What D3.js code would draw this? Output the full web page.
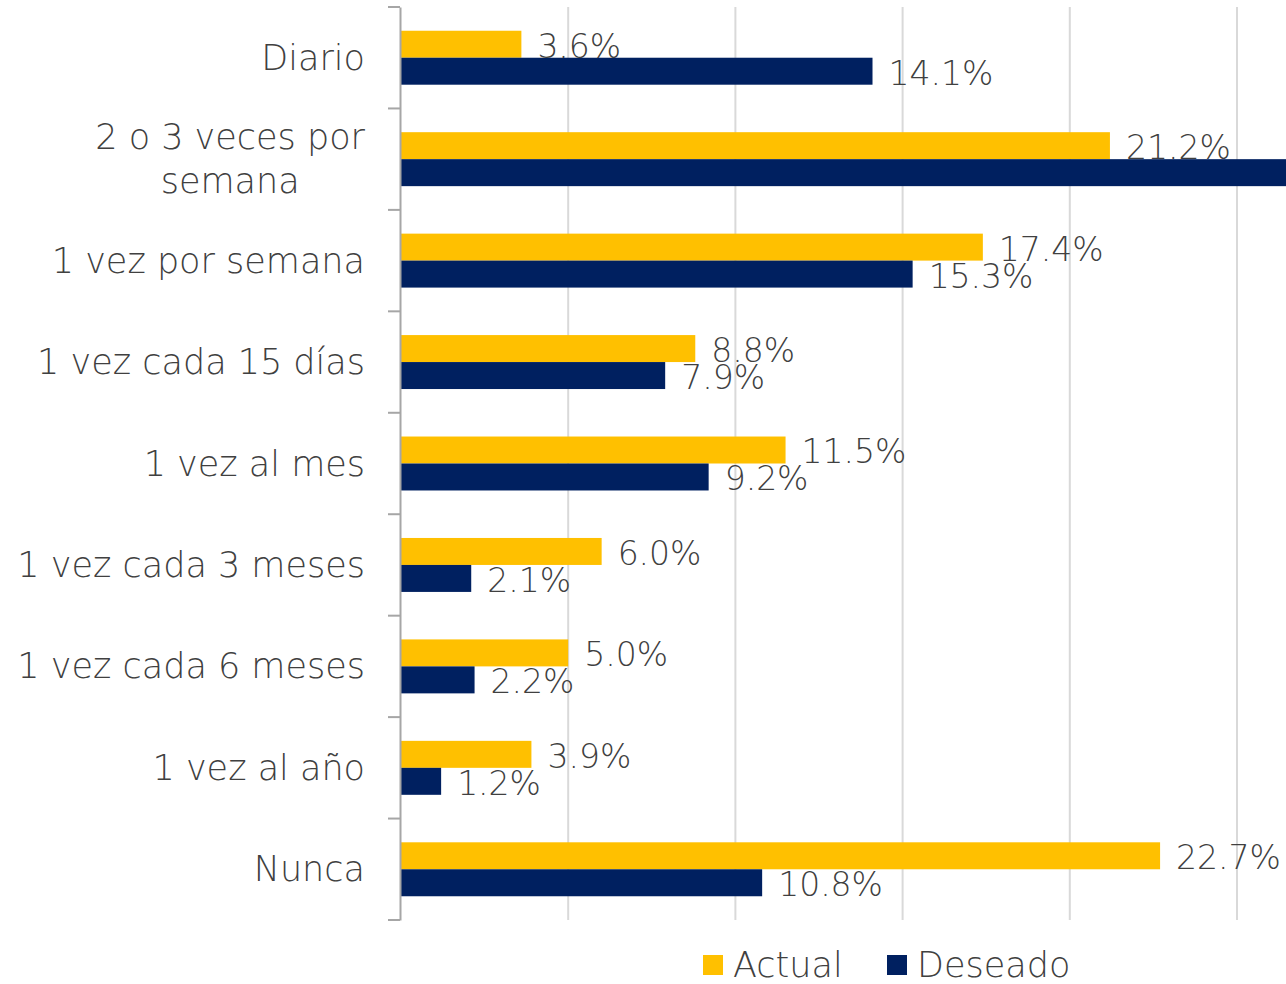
<!DOCTYPE html>
<html>
<head>
<meta charset="utf-8">
<script src="https://cdn.jsdelivr.net/npm/d3@7"></script>
<style>
  body { margin: 0; background: #fff; }
  svg { display: block; }
  text { font-family: "Century Gothic", "URW Gothic", "DejaVu Sans", sans-serif; fill: #404040; font-weight: 300; }
</style>
</head>
<body>
<div class="chart"></div>
<script>
var svgWidth = 1286;
var svgHeight = 984;
var fontSize = "35px";
var valueFontSize = "33px";

// data
var categories = ["Diario", "2 o 3 veces por semana", "1 vez por semana", "1 vez cada 15 días",
  "1 vez al mes", "1 vez cada 3 meses", "1 vez cada 6 meses", "1 vez al año", "Nunca"];
var actual = [3.6, 21.2, 17.4, 8.8, 11.5, 6.0, 5.0, 3.9, 22.7];
var deseado = [14.1, 37.2, 15.3, 7.9, 9.2, 2.1, 2.2, 1.2, 10.8];
var seriesNames = ["Actual", "Deseado"];
var colors = ["#FFC000", "#002060"];
var xTicks = [5, 10, 15, 20, 25];

var svg = d3.select(".chart")
  .append("svg")
  .attr("width", svgWidth)
  .attr("height", svgHeight);

// scales
var xScale = d3.scaleLinear()
  .domain([0, 25])
  .range([401, 1237]);

var yScale = d3.scaleBand()
  .domain(categories)
  .range([7, 920]);

var inner = d3.scaleBand()
  .domain(seriesNames)
  .range([0, yScale.bandwidth()])
  .paddingOuter(0.88);

// gridlines
svg.append("g")
  .selectAll("line")
  .data(xTicks)
  .enter()
  .append("line")
  .attr("x1", d => xScale(d))
  .attr("x2", d => xScale(d))
  .attr("y1", 7)
  .attr("y2", 920)
  .attr("stroke", "#d9d9d9")
  .attr("stroke-width", 2);

// bars
var groups = svg.append("g")
  .selectAll("g")
  .data(categories)
  .enter()
  .append("g")
  .attr("transform", d => `translate(0, ${yScale(d)})`);

var rows = categories.map((c, i) => [
  { s: "Actual", v: actual[i], c: colors[0] },
  { s: "Deseado", v: deseado[i], c: colors[1] }
]);

groups.selectAll("rect")
  .data((d, i) => rows[i])
  .enter()
  .append("rect")
  .attr("x", xScale(0))
  .attr("y", d => inner(d.s))
  .attr("width", d => Math.min(xScale(d.v), svgWidth) - xScale(0))
  .attr("height", inner.bandwidth())
  .attr("fill", d => d.c);

// value labels (the one that falls outside the frame is not shown)
groups.selectAll("text")
  .data((d, i) => rows[i].filter(r => xScale(r.v) + 16 < svgWidth))
  .enter()
  .append("text")
  .attr("x", d => xScale(d.v) + 16)
  .attr("y", d => inner(d.s) + inner.bandwidth() / 2 + 2)
  .attr("dominant-baseline", "central")
  .style("font-size", valueFontSize)
  .text(d => d.v.toFixed(1) + "%");

// y axis
var yAxis = d3.axisLeft(yScale).tickSize(0).tickFormat("");
var axisG = svg.append("g")
  .attr("transform", "translate(400,0)")
  .call(yAxis);
axisG.select(".domain").attr("stroke", "#a6a6a6").attr("stroke-width", 2);

// category boundary ticks
svg.append("g")
  .selectAll("line")
  .data(categories.map(c => yScale(c)).concat([yScale.range()[1]]))
  .enter()
  .append("line")
  .attr("x1", 388)
  .attr("x2", 400)
  .attr("y1", d => d)
  .attr("y2", d => d)
  .attr("stroke", "#a6a6a6")
  .attr("stroke-width", 2);

// category labels
var wrapped = { "2 o 3 veces por semana": ["2 o 3 veces por", "semana"] };
categories.forEach(function(c) {
  var lines = wrapped[c] || [c];
  var cy = yScale(c) + yScale.bandwidth() / 2;
  var g = svg.append("g");
  if (lines.length === 1) {
    g.append("text")
      .attr("x", 365)
      .attr("y", cy)
      .attr("text-anchor", "end")
      .attr("dominant-baseline", "central")
      .style("font-size", fontSize)
      .text(c);
  } else {
    var lh = 44;
    var tmp = g.append("text").style("font-size", fontSize).text(lines[0]);
    var w = tmp.node().getComputedTextLength();
    tmp.remove();
    lines.forEach(function(l, j) {
      g.append("text")
        .attr("x", 365 - w / 2)
        .attr("y", cy + (j - (lines.length - 1) / 2) * lh)
        .attr("text-anchor", "middle")
        .attr("dominant-baseline", "central")
        .style("font-size", fontSize)
        .text(l);
    });
  }
});

// legend
var legend = svg.append("g")
  .attr("transform", "translate(703, 965)");
var lx = [0, 184];
seriesNames.forEach(function(s, i) {
  legend.append("rect")
    .attr("x", lx[i])
    .attr("y", -10)
    .attr("width", 20)
    .attr("height", 20)
    .attr("fill", colors[i]);
  legend.append("text")
    .attr("x", lx[i] + 30)
    .attr("y", 0)
    .attr("dominant-baseline", "central")
    .style("font-size", fontSize)
    .text(s);
});
</script>
</body>
</html>
